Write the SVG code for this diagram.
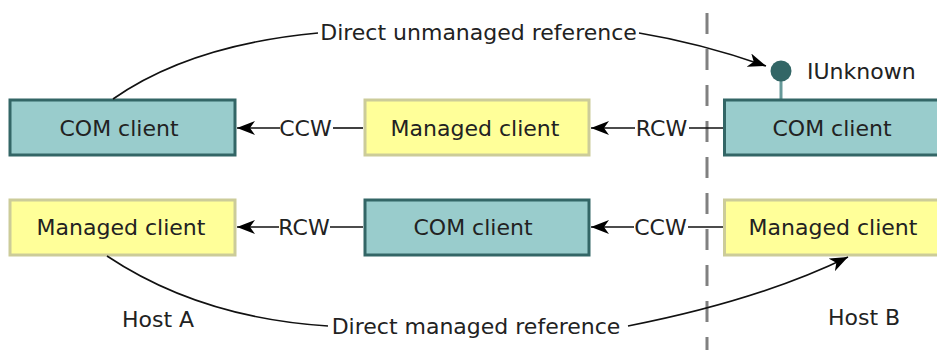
<svg xmlns="http://www.w3.org/2000/svg" width="937" height="350" viewBox="0 0 937 350">
  <style>
    text { font-family: "DejaVu Sans", Verdana, sans-serif; font-size: 22px; fill: #222; }
    .mid { text-anchor: middle; }
    .com { fill: #99CCCC; stroke: #336666; stroke-width: 3; }
    .mgd { fill: #FFFF99; stroke: #CCCC99; stroke-width: 3; }
    .wire { fill: none; stroke: #111; stroke-width: 1.6; }
    .boundary { fill: none; stroke: #808080; stroke-width: 3; stroke-dasharray: 21 15; }
  </style>
  <defs>
    <marker id="arrow" viewBox="0 0 18 14" refX="18" refY="7" markerWidth="18" markerHeight="14" markerUnits="userSpaceOnUse" orient="auto">
      <path d="M18,7 L0,0 L5,7 L0,14 Z" fill="#000"/>
    </marker>
  </defs>

  <rect width="937" height="350" fill="#fff"/>

  <!-- process boundary between the two hosts -->
  <g id="host-boundary">
    <line class="boundary" x1="707" y1="13" x2="707" y2="350"/>
    <text x="122" y="327">Host A</text>
    <text x="828" y="325">Host B</text>
  </g>

  <!-- Host A, top row -->
  <g id="a-com-client">
    <rect class="com" x="10" y="100" width="225" height="55"/>
    <text class="mid" x="119" y="136">COM client</text>
  </g>
  <g id="a-managed-client">
    <rect class="mgd" x="365" y="100" width="224" height="55"/>
    <text class="mid" x="475" y="136">Managed client</text>
  </g>

  <!-- Host B, top row, with its IUnknown interface -->
  <g id="b-com-client">
    <line x1="781" y1="80" x2="781" y2="99" stroke="#669999" stroke-width="3"/>
    <circle cx="781" cy="71" r="10.5" fill="#336666"/>
    <text x="807" y="79">IUnknown</text>
    <rect class="com" x="724.5" y="100" width="225" height="55"/>
    <text class="mid" x="832" y="136">COM client</text>
  </g>

  <!-- Host A, bottom row -->
  <g id="a-managed-client-2">
    <rect class="mgd" x="10" y="200" width="225" height="55"/>
    <text class="mid" x="121" y="235">Managed client</text>
  </g>
  <g id="a-com-client-2">
    <rect class="com" x="365" y="200" width="224" height="55"/>
    <text class="mid" x="473" y="235">COM client</text>
  </g>

  <!-- Host B, bottom row -->
  <g id="b-managed-client">
    <rect class="mgd" x="724.5" y="200" width="225" height="55"/>
    <text class="mid" x="833" y="235">Managed client</text>
  </g>

  <g id="connectors">
    <!-- top row wrappers -->
    <line class="wire" x1="363" y1="128" x2="333" y2="128"/>
    <line class="wire" x1="280" y1="128" x2="237" y2="128" marker-end="url(#arrow)"/>
    <text class="mid" x="305.5" y="136">CCW</text>

    <line class="wire" x1="723" y1="128" x2="689" y2="128"/>
    <line class="wire" x1="635" y1="128" x2="591" y2="128" marker-end="url(#arrow)"/>
    <text class="mid" x="661.5" y="136">RCW</text>

    <!-- bottom row wrappers -->
    <line class="wire" x1="363" y1="227" x2="330" y2="227"/>
    <line class="wire" x1="279" y1="227" x2="237" y2="227" marker-end="url(#arrow)"/>
    <text class="mid" x="304" y="235">RCW</text>

    <line class="wire" x1="723" y1="227" x2="688" y2="227"/>
    <line class="wire" x1="634" y1="227" x2="591" y2="227" marker-end="url(#arrow)"/>
    <text class="mid" x="660.5" y="235">CCW</text>

    <!-- direct references across the boundary -->
    <path class="wire" d="M113,99 Q190,45 318,33"/>
    <path class="wire" d="M639,33 Q700,43 766,66" marker-end="url(#arrow)"/>
    <text class="mid" x="478.5" y="40">Direct unmanaged reference</text>

    <path class="wire" d="M107,256 Q200,318 328,326"/>
    <path class="wire" d="M628,326 Q760,300 848,257" marker-end="url(#arrow)"/>
    <text class="mid" x="476" y="334">Direct managed reference</text>
  </g>
</svg>
